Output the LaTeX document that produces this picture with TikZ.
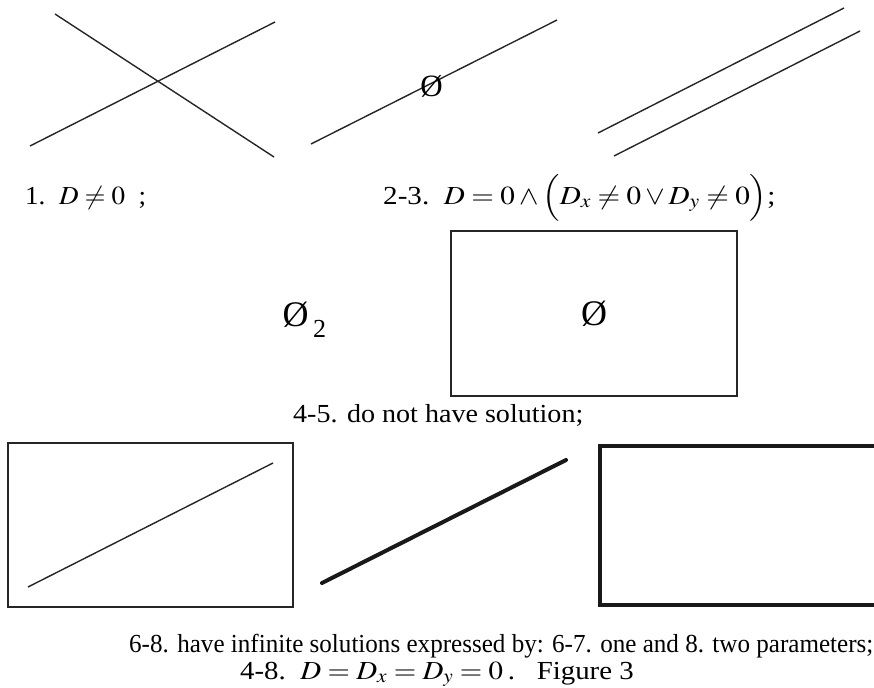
\documentclass[tikz,border=0pt]{standalone}
\usepackage{mathptmx}
\usepackage{fontspec}
\setmainfont{Liberation Serif}
\begin{document}
\begin{tikzpicture}[x=1pt,y=-1pt,
  thinln/.style={line width=1.4pt, black!85},
  boxln/.style={line width=2pt, black!85},
  thickln/.style={line width=4pt, black!90, line cap=round},
  lbl/.style={inner sep=0pt, anchor=base west, font=\fontsize{26}{30}\selectfont},
  empt/.style={inner sep=0pt, font=\fontsize{36}{40}\selectfont}]
\useasboundingbox (0,0) rectangle (874,687);
% panel 1
\coordinate (a1) at (55,14); \coordinate (a2) at (274,157);
\coordinate (b1) at (30,146); \coordinate (b2) at (275,22);
\draw[thinln] (a1) -- (a2);
\draw[thinln] (b1) -- (b2);
% panel 2
\coordinate (c1) at (311,144); \coordinate (c2) at (557,20);
\draw[thinln] (c1) -- (c2);
\node[inner sep=0pt, font=\fontsize{31}{34}\selectfont] (e1) at (431.5,86) {Ø};
% panel 3
\coordinate (d1) at (598,133); \coordinate (d2) at (844,8);
\coordinate (f1) at (614,156); \coordinate (f2) at (860,31);
\draw[thinln] (d1) -- (d2);
\draw[thinln] (f1) -- (f2);
% labels row 1
\node[lbl] (l1) at (25,204) {\scalebox{1.04}[1]{1.\ \ $D\neq0$\ \ ;}};
\node[lbl] (l2) at (383,204) {\scalebox{1.12}[1]{2-3.\ \ $D=0\wedge\Bigl(D_x\neq0\vee D_y\neq0\Bigr)$;}};
% panel 4-5
\node[empt] (e2) at (295.5,315) {Ø};
\node[lbl, anchor=base] (e2s) at (319.5,337) {2};
\coordinate (p1) at (451,231); \coordinate (p2) at (737,396);
\draw[boxln] (p1) rectangle (p2);
\node[empt] (e3) at (594,314) {Ø};
\node[lbl] (l3) at (293,422) {\scalebox{1.08}[1]{4-5. do not have solution;}};
% panel 6
\coordinate (q1) at (8,443); \coordinate (q2) at (293,607);
\draw[line width=1.6pt, black!85] (q1) rectangle (q2);
\coordinate (g1) at (28,587); \coordinate (g2) at (273,463);
\draw[thinln] (g1) -- (g2);
% panel 7
\coordinate (h1) at (322,583); \coordinate (h2) at (566,460);
\draw[thickln] (h1) -- (h2);
% panel 8
\coordinate (k1) at (600,446); \coordinate (k2) at (880,605);
\draw[line width=4pt, black!90] (k1) rectangle (k2);
% bottom labels
\node[lbl] (l4) at (129,652) {\scalebox{0.965}[1]{6-8. have infinite solutions expressed by: 6-7. one and 8. two parameters;}};
\node[lbl] (l5) at (240,679) {\scalebox{1.11}[1]{4-8.\ \ $D=D_x=D_y=0$\,.\ \ \ Figure 3}};
\end{tikzpicture}
\end{document}
